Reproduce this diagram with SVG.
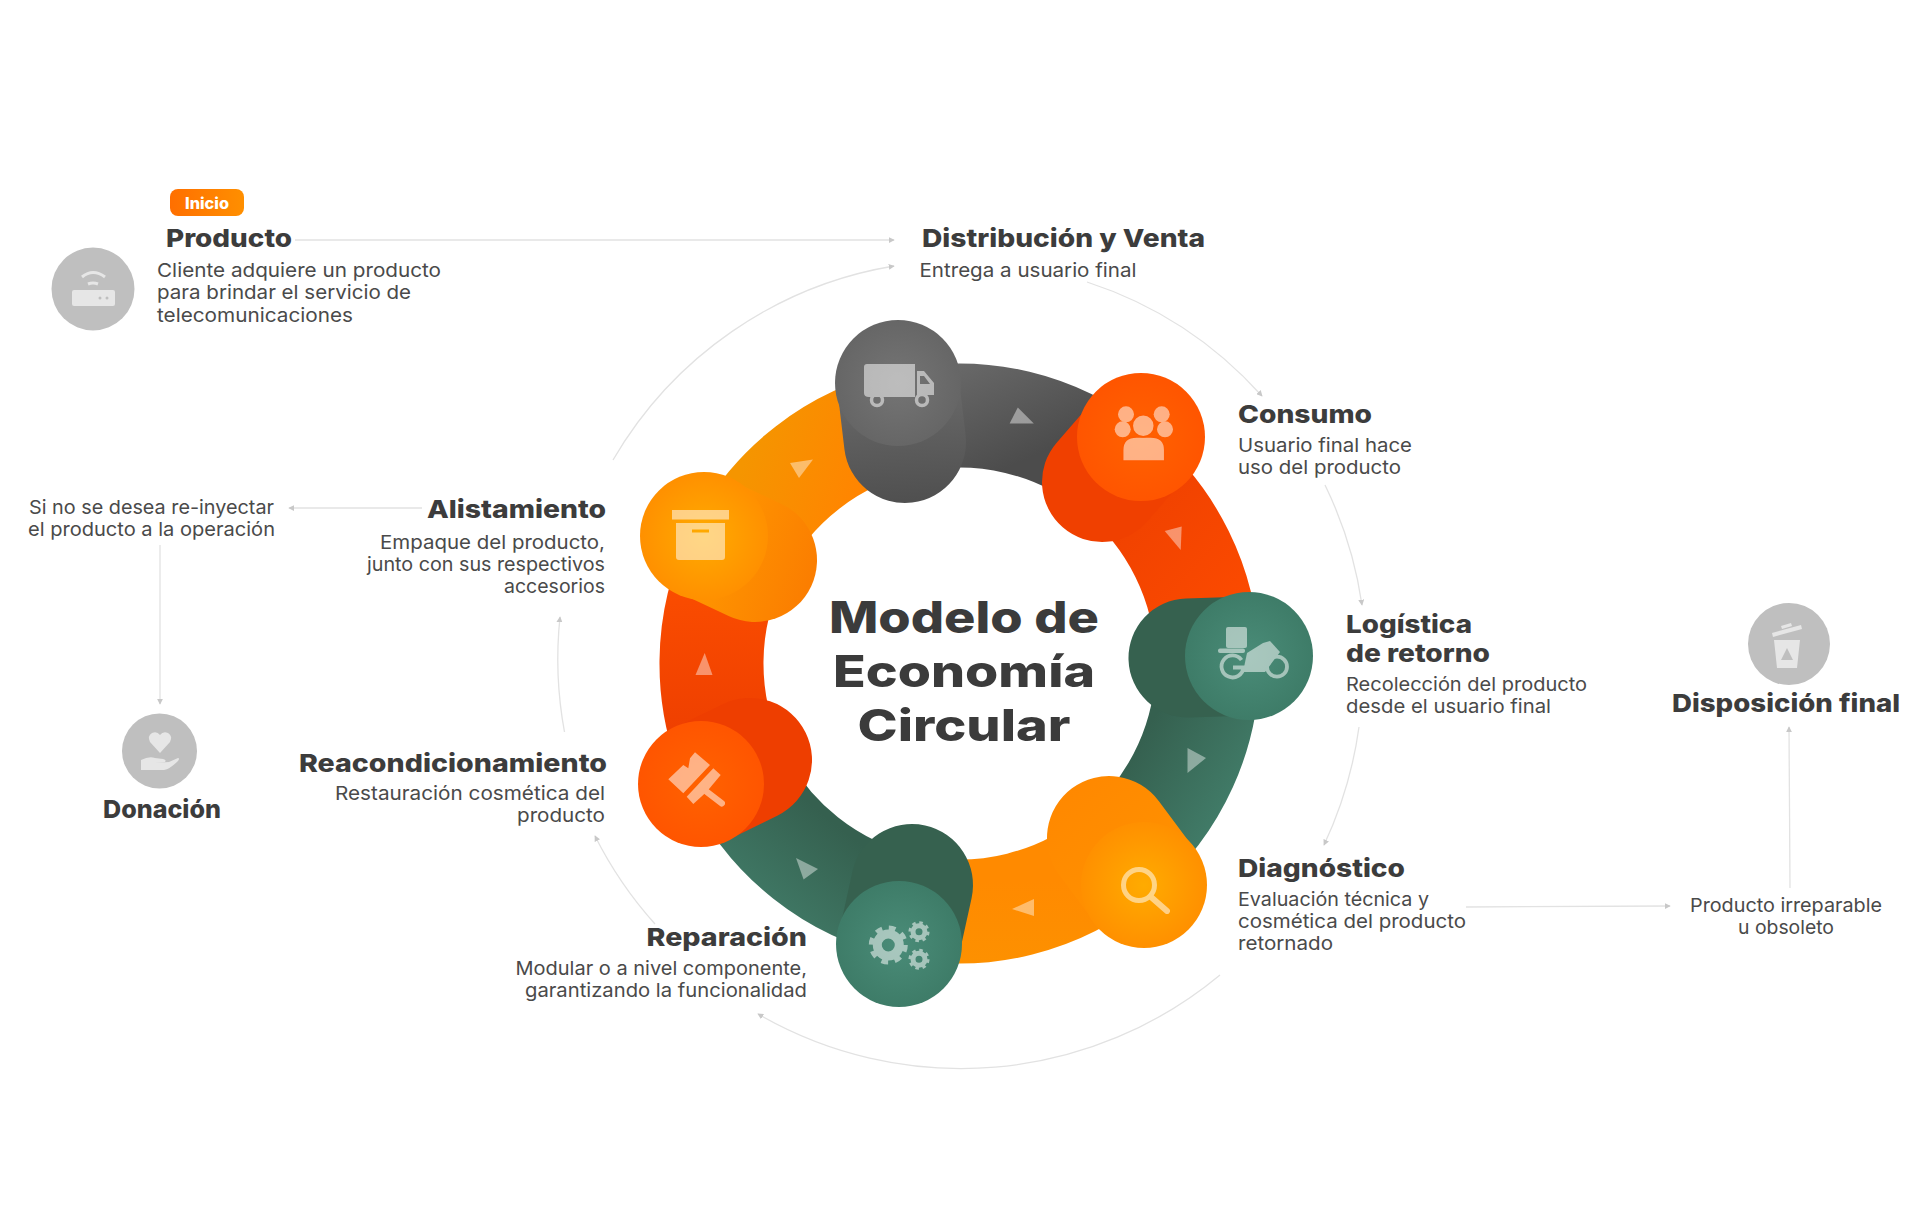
<svg xmlns="http://www.w3.org/2000/svg" width="1920" height="1228" viewBox="0 0 1920 1228">
<style>
text{font-family:"Inter","Liberation Sans",sans-serif}
.h{font-weight:800;font-size:25px;fill:#3c3c3c}
.d{font-weight:400;font-size:19px;fill:#4a4a4a}
.t{font-weight:800;font-size:44px;fill:#3b3b3b;text-anchor:middle}
.c{fill:none;stroke:#e2e2e2;stroke-width:1.3;marker-end:url(#a)}
.arc{fill:none;stroke-width:104}
.tri{fill:#fff;fill-opacity:.42}
.ic{fill:#fff;opacity:.52}
.ic .s{fill:none;stroke:#fff}
.gi{fill:#e6e6e6}
.gi .s{fill:none;stroke:#e6e6e6}
.g{fill:#bfbfbf}
</style>
<defs>
<marker id="a" viewBox="0 0 8 8" refX="7" refY="4" markerWidth="6" markerHeight="6" markerUnits="userSpaceOnUse" orient="auto"><path d="M0 0L8 4L0 8z" fill="#c8c8c8"/></marker>
<linearGradient id="ag" gradientUnits="userSpaceOnUse" x1="950" y1="360" x2="1000" y2="470"><stop offset="0" stop-color="#6a6a6a"/><stop offset="1" stop-color="#4c4c4c"/></linearGradient>
<linearGradient id="ar" gradientUnits="userSpaceOnUse" x1="1110" y1="480" x2="1240" y2="600"><stop offset="0" stop-color="#ee4000"/><stop offset="1" stop-color="#fb4a00"/></linearGradient>
<linearGradient id="agn" gradientUnits="userSpaceOnUse" x1="1150" y1="720" x2="1260" y2="790"><stop offset="0" stop-color="#35604f"/><stop offset="1" stop-color="#43806c"/></linearGradient>
<linearGradient id="ao" gradientUnits="userSpaceOnUse" x1="1040" y1="880" x2="1040" y2="970"><stop offset="0" stop-color="#ff8a00"/><stop offset="1" stop-color="#fd9100"/></linearGradient>
<linearGradient id="agn2" gradientUnits="userSpaceOnUse" x1="830" y1="820" x2="740" y2="930"><stop offset="0" stop-color="#35604f"/><stop offset="1" stop-color="#43806c"/></linearGradient>
<linearGradient id="ar2" gradientUnits="userSpaceOnUse" x1="710" y1="740" x2="710" y2="590"><stop offset="0" stop-color="#ee3f00"/><stop offset="1" stop-color="#fa4c00"/></linearGradient>
<linearGradient id="ao2" gradientUnits="userSpaceOnUse" x1="750" y1="440" x2="860" y2="480"><stop offset="0" stop-color="#f59500"/><stop offset="1" stop-color="#ff8500"/></linearGradient>
<radialGradient id="cg"><stop offset="0" stop-color="#757575"/><stop offset="1" stop-color="#666"/></radialGradient>
<radialGradient id="cr"><stop offset="0" stop-color="#ff6200"/><stop offset="1" stop-color="#ff5500"/></radialGradient>
<radialGradient id="cgn"><stop offset="0" stop-color="#4a8c78"/><stop offset="1" stop-color="#3e7c68"/></radialGradient>
<radialGradient id="co"><stop offset="0" stop-color="#ffab00"/><stop offset="1" stop-color="#ff9000"/></radialGradient>
<linearGradient id="bg" gradientUnits="userSpaceOnUse" x1="898" y1="383" x2="905" y2="500"><stop offset="0" stop-color="#6a6a6a"/><stop offset="1" stop-color="#505050"/></linearGradient>
<linearGradient id="bo" gradientUnits="userSpaceOnUse" x1="1060" y1="790" x2="1180" y2="930"><stop offset="0" stop-color="#ff8800"/><stop offset="1" stop-color="#ff9400"/></linearGradient>
<linearGradient id="bo2" gradientUnits="userSpaceOnUse" x1="700" y1="540" x2="810" y2="580"><stop offset="0" stop-color="#ff9800"/><stop offset="1" stop-color="#fb7e00"/></linearGradient>
<linearGradient id="badge" x1="0" y1="0" x2="1" y2="0"><stop offset="0" stop-color="#ff6f00"/><stop offset="1" stop-color="#ff8f00"/></linearGradient>
</defs>

<g id="connectors">
<path class="c" d="M295 240H894"/>
<path class="c" d="M613 460A401 401 0 0 1 894 266"/>
<path class="c" d="M1087 282A403 403 0 0 1 1262 396"/>
<path class="c" d="M1325 485A408 408 0 0 1 1362 605"/>
<path class="c" d="M1359 727A408 408 0 0 1 1324 845"/>
<path class="c" d="M1220 975A405 405 0 0 1 758 1014"/>
<path class="c" d="M655 924A401 401 0 0 1 595 836"/>
<path class="c" d="M564.500 732A400 400 0 0 1 560 617"/>
<path class="c" d="M422 508H289"/>
<path class="c" d="M160 545V704"/>
<path class="c" d="M1466 907L1670 906"/>
<path class="c" d="M1790 888L1789 727"/>
</g>

<g id="ring">
<g transform="translate(1.500 .5)">
<path class="arc" stroke="url(#ag)" d="M906.400 420.400A248 248 0 0 1 1114 470.300"/>
<path class="arc" stroke="url(#ar)" d="M1114 470.300A248 248 0 0 1 1206 657"/>
<path class="arc" stroke="url(#agn)" d="M1206 657A248 248 0 0 1 1117.400 853"/>
<path class="arc" stroke="url(#ao)" d="M1117.400 853A248 248 0 0 1 906.900 905.700"/>
<path class="arc" stroke="url(#agn2)" d="M906.900 905.700A248 248 0 0 1 733.600 768.600"/>
<path class="arc" stroke="url(#ar2)" d="M733.600 768.600A248 248 0 0 1 736.200 552"/>
<path class="arc" stroke="url(#ao2)" d="M736.200 552A248 248 0 0 1 906.400 420.400"/>
</g>
<path class="tri" d="M1009.600 423.600H1033.800L1017.800 407.600z"/>
<path class="tri" d="M1164.700 531L1181.700 526.500L1180.700 550z"/>
<path class="tri" d="M1187.500 748L1206 758L1187.500 773z"/>
<path class="tri" d="M1012 909L1034 899V916z"/>
<path class="tri" d="M796 858L818 869L803.600 879.500z"/>
<path class="tri" d="M695.500 675H712.500L704.700 653z"/>
<path class="tri" d="M790 463L813 459.500L799 478z"/>
</g>

<g id="node-distribucion">
<path d="M898 383L905 442" stroke="url(#bg)" stroke-width="122" stroke-linecap="round"/>
<circle cx="898" cy="383" r="63" fill="url(#cg)"/>
<g class="ic"><path d="M864 367q0-3 3-3h48v33h-46q-5 0-5-4z"/><path d="M917 371h7l10 12v12h-17zM920 376v8h10l-6-8z" fill-rule="evenodd"/><circle class="s" cx="877" cy="400" r="5.500" stroke-width="3.500"/><circle class="s" cx="922" cy="400" r="5.500" stroke-width="3.500"/></g>
<text class="h" x="922" y="246.500" textLength="283" lengthAdjust="spacingAndGlyphs">Distribución y Venta</text>
<text class="d" x="919.500" y="277" textLength="217" lengthAdjust="spacingAndGlyphs">Entrega a usuario final</text>
</g>

<g id="node-consumo">
<path d="M1141 437L1102 482" stroke="#f04000" stroke-width="120" stroke-linecap="round"/>
<circle cx="1141" cy="437" r="64" fill="url(#cr)"/>
<g class="ic"><circle cx="1126" cy="414.300" r="8"/><circle cx="1161.700" cy="414.300" r="8"/><circle cx="1122.700" cy="429.300" r="8"/><circle cx="1165" cy="429.300" r="8"/><path d="M1122.700 461V450q0-13 14-13h14q14 0 14 13v11z" stroke="#ff5a00" stroke-width="1.500"/><circle cx="1143.300" cy="425.700" r="11" stroke="#ff5a00" stroke-width="1.500"/></g>
<text class="h" x="1238" y="423" textLength="134" lengthAdjust="spacingAndGlyphs">Consumo</text>
<text class="d" x="1238" y="452" textLength="174" lengthAdjust="spacingAndGlyphs">Usuario final hace</text>
<text class="d" x="1238" y="474" textLength="163" lengthAdjust="spacingAndGlyphs">uso del producto</text>
</g>

<g id="node-logistica">
<path d="M1249 656L1188 658" stroke="#36614f" stroke-width="119" stroke-linecap="round"/>
<circle cx="1249" cy="656" r="64" fill="url(#cgn)"/>
<g class="ic"><rect x="1226" y="627" width="21" height="21" rx="2"/><rect x="1218" y="648.500" width="27" height="4.500" rx="2"/><path class="s" d="M1241.500 660A11 11 0 1 0 1243.500 667.500H1233" stroke-width="3.800"/><circle class="s" cx="1277" cy="666.700" r="10" stroke-width="3.800"/><path d="M1247 653L1263 643L1270 641L1280 652L1265 672H1243z"/></g>
<text class="h" x="1346" y="632.500" textLength="126" lengthAdjust="spacingAndGlyphs">Logística</text>
<text class="h" x="1346" y="661.500" textLength="144" lengthAdjust="spacingAndGlyphs">de retorno</text>
<text class="d" x="1346" y="690.500" textLength="241" lengthAdjust="spacingAndGlyphs">Recolección del producto</text>
<text class="d" x="1346" y="712.500" textLength="205" lengthAdjust="spacingAndGlyphs">desde el usuario final</text>
</g>

<g id="node-diagnostico">
<path d="M1144 885L1109 838" stroke="url(#bo)" stroke-width="124" stroke-linecap="round"/>
<circle cx="1144" cy="885" r="63" fill="url(#co)"/>
<g class="ic"><circle class="s" cx="1139" cy="885" r="15.500" stroke-width="5"/><path class="s" d="M1151 897L1167 911" stroke-width="6" stroke-linecap="round"/></g>
<text class="h" x="1238" y="876.500" textLength="167" lengthAdjust="spacingAndGlyphs">Diagnóstico</text>
<text class="d" x="1238" y="906" textLength="191" lengthAdjust="spacingAndGlyphs">Evaluación técnica y</text>
<text class="d" x="1238" y="928" textLength="228" lengthAdjust="spacingAndGlyphs">cosmética del producto</text>
<text class="d" x="1238" y="950" textLength="95" lengthAdjust="spacingAndGlyphs">retornado</text>
</g>

<g id="node-reparacion">
<path d="M899 944L912 885" stroke="#36614f" stroke-width="122" stroke-linecap="round"/>
<circle cx="899" cy="944" r="63" fill="url(#cgn)"/>
<g class="ic"><circle class="s" cx="888.300" cy="945" r="11" stroke-width="9"/><circle class="s" cx="888.300" cy="945" r="16.500" stroke-width="6" stroke-dasharray="6.500 6.460"/><circle class="s" cx="919" cy="931.700" r="6" stroke-width="5"/><circle class="s" cx="919" cy="931.700" r="8.800" stroke-width="3.500" stroke-dasharray="3.400 3.510"/><circle class="s" cx="919" cy="959.300" r="6" stroke-width="5"/><circle class="s" cx="919" cy="959.300" r="8.800" stroke-width="3.500" stroke-dasharray="3.400 3.510"/></g>
<text class="h" x="646.500" y="945.500" textLength="160.500" lengthAdjust="spacingAndGlyphs">Reparación</text>
<text class="d" x="515.500" y="975" textLength="291.500" lengthAdjust="spacingAndGlyphs">Modular o a nivel componente,</text>
<text class="d" x="525" y="997" textLength="282" lengthAdjust="spacingAndGlyphs">garantizando la funcionalidad</text>
</g>

<g id="node-reacondicionamiento">
<path d="M701 784L750 760" stroke="#ee3e00" stroke-width="124" stroke-linecap="round"/>
<circle cx="701" cy="784" r="63" fill="url(#cr)"/>
<g class="ic"><path d="M668.300 779.300L683.300 765L688.300 768.300L690 758.300L695 752.300L710 765L683.300 793.300z"/><path d="M686.700 796.700L713.300 768.300L720.700 775L706.700 791.700L693.300 804z"/><path class="s" d="M706.700 791.700L721.700 803.300" stroke-width="6.500" stroke-linecap="round"/></g>
<text class="h" x="299" y="772" textLength="308" lengthAdjust="spacingAndGlyphs">Reacondicionamiento</text>
<text class="d" x="335" y="800" textLength="270" lengthAdjust="spacingAndGlyphs">Restauración cosmética del</text>
<text class="d" x="517" y="822" textLength="88" lengthAdjust="spacingAndGlyphs">producto</text>
</g>

<g id="node-alistamiento">
<path d="M704 536L755 560" stroke="url(#bo2)" stroke-width="124" stroke-linecap="round"/>
<circle cx="704" cy="536" r="64" fill="url(#co)"/>
<g class="ic"><rect x="672" y="510" width="57" height="9.500"/><path d="M676 523H725V557q0 3-3 3H679q-3 0-3-3zM692 529.500v3h17v-3z" fill-rule="evenodd"/></g>
<text class="h" x="427" y="518" textLength="179" lengthAdjust="spacingAndGlyphs">Alistamiento</text>
<text class="d" x="380" y="549" textLength="225" lengthAdjust="spacingAndGlyphs">Empaque del producto,</text>
<text class="d" x="367" y="571" textLength="238" lengthAdjust="spacingAndGlyphs">junto con sus respectivos</text>
<text class="d" x="504" y="593" textLength="101" lengthAdjust="spacingAndGlyphs">accesorios</text>
</g>

<g id="node-producto">
<circle class="g" cx="93" cy="289" r="41.500"/>
<g class="gi"><rect x="72" y="290" width="43" height="16" rx="2"/><circle cx="100" cy="298" r="1.500" fill="#bfbfbf"/><circle cx="107" cy="298" r="1.500" fill="#bfbfbf"/><path class="s" d="M82 277Q93 268 105 277" stroke-width="3"/><path class="s" d="M88 284Q93 282 98 284" stroke-width="3"/></g>
<rect x="170" y="189" width="74" height="27" rx="8" fill="url(#badge)"/>
<text x="207" y="208.500" text-anchor="middle" font-size="16" font-weight="800" fill="#fff" textLength="44" lengthAdjust="spacingAndGlyphs">Inicio</text>
<text class="h" x="166" y="246.500" textLength="126" lengthAdjust="spacingAndGlyphs">Producto</text>
<text class="d" x="157" y="277" textLength="284" lengthAdjust="spacingAndGlyphs">Cliente adquiere un producto</text>
<text class="d" x="157" y="299" textLength="254" lengthAdjust="spacingAndGlyphs">para brindar el servicio de</text>
<text class="d" x="157" y="321.500" textLength="196" lengthAdjust="spacingAndGlyphs">telecomunicaciones</text>
</g>

<g id="node-donacion">
<circle class="g" cx="159.500" cy="751" r="37.500"/>
<g class="gi"><path d="M160 753L150 742q-3-6 2-9q5-2 8 2q3-4 8-2q5 3 2 9z"/><path d="M141 760q8-4 14-2l8 1q4 1 2 3l-10 1l14-1l9-4q2 0 0 3q-8 8-14 9h-23z"/></g>
<text class="h" x="103" y="818" textLength="118" lengthAdjust="spacingAndGlyphs">Donación</text>
<text class="d" x="29" y="513.500" textLength="245" lengthAdjust="spacingAndGlyphs">Si no se desea re-inyectar</text>
<text class="d" x="28" y="535.500" textLength="247" lengthAdjust="spacingAndGlyphs">el producto a la operación</text>
</g>

<g id="node-disposicion">
<circle class="g" cx="1789" cy="644" r="41"/>
<g class="gi"><path d="M1772 633L1801 625L1802 629L1773 637z"/><path d="M1781 626l10-3l1 3l-10 3z"/><path d="M1774 640H1800L1797 668H1777zM1787 648L1781 660H1793z" fill-rule="evenodd"/></g>
<text class="h" x="1672" y="711.500" textLength="228" lengthAdjust="spacingAndGlyphs">Disposición final</text>
<text class="d" x="1690" y="912" textLength="192" lengthAdjust="spacingAndGlyphs">Producto irreparable</text>
<text class="d" x="1738" y="934" textLength="96" lengthAdjust="spacingAndGlyphs">u obsoleto</text>
</g>

<g id="title">
<text class="t" x="964" y="633" textLength="270" lengthAdjust="spacingAndGlyphs">Modelo de</text>
<text class="t" x="964" y="687" textLength="262" lengthAdjust="spacingAndGlyphs">Economía</text>
<text class="t" x="964" y="741" textLength="213" lengthAdjust="spacingAndGlyphs">Circular</text>
</g>
</svg>
